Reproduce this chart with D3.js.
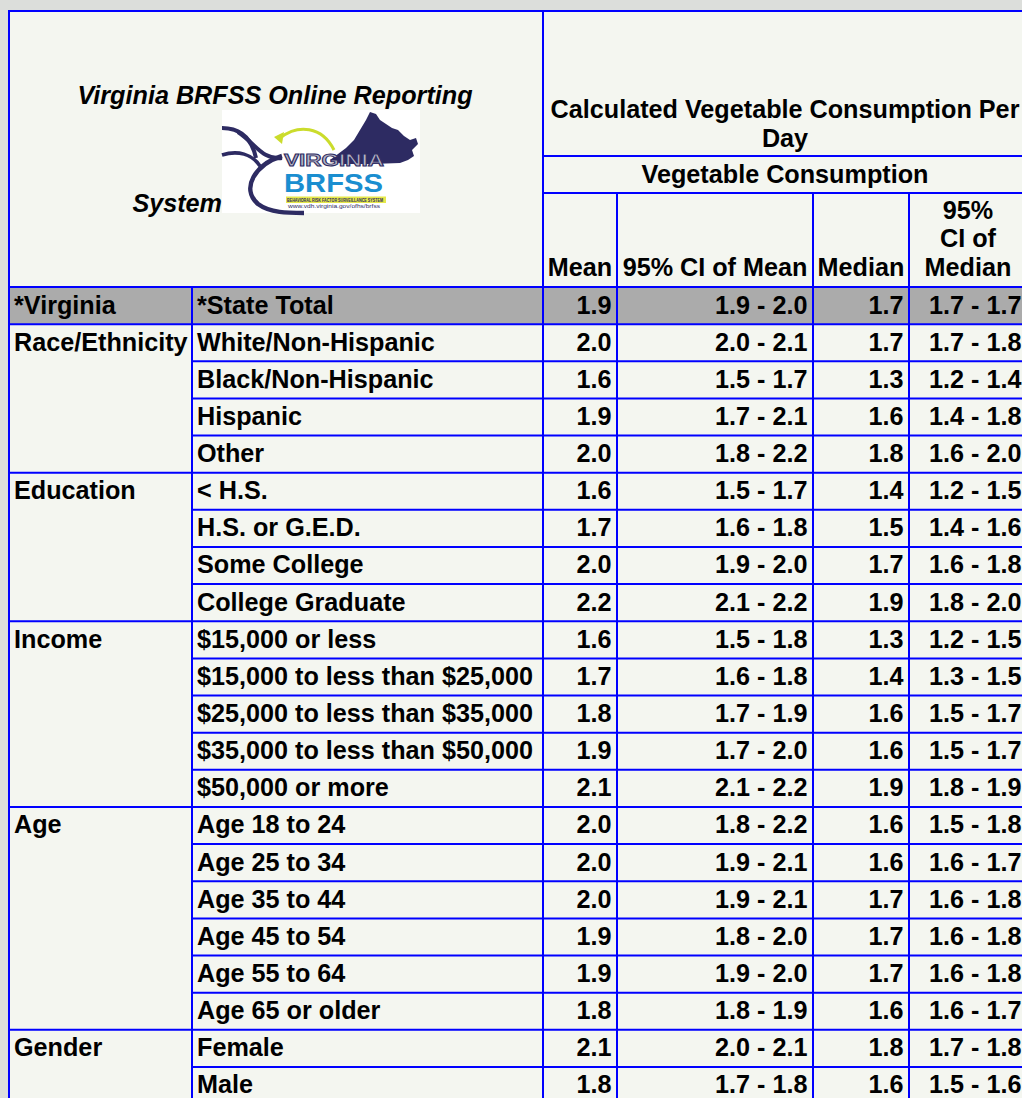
<!DOCTYPE html>
<html>
<head>
<meta charset="utf-8">
<script src="https://cdn.jsdelivr.net/npm/d3@7/dist/d3.min.js"></script>
<style>
  html, body { margin: 0; padding: 0; background: #dcdedb; overflow: hidden; }
  svg { display: block; }
  text { font-family: "Liberation Sans", Arial, sans-serif; font-weight: bold; fill: #000; }
</style>
</head>
<body>
<svg id="tbl" width="1022" height="1098"></svg>
<script>
// table data
var groupNames = ["*Virginia", "Race/Ethnicity", "Education", "Income", "Age", "Gender"];
var groupSizes = [1, 4, 4, 5, 6, 2];

var subgroups = ["*State Total",
  "White/Non-Hispanic", "Black/Non-Hispanic", "Hispanic", "Other",
  "< H.S.", "H.S. or G.E.D.", "Some College", "College Graduate",
  "$15,000 or less", "$15,000 to less than $25,000", "$25,000 to less than $35,000",
  "$35,000 to less than $50,000", "$50,000 or more",
  "Age 18 to 24", "Age 25 to 34", "Age 35 to 44", "Age 45 to 54", "Age 55 to 64", "Age 65 or older",
  "Female", "Male"];

var means   = [1.9, 2.0, 1.6, 1.9, 2.0, 1.6, 1.7, 2.0, 2.2, 1.6, 1.7, 1.8, 1.9, 2.1, 2.0, 2.0, 2.0, 1.9, 1.9, 1.8, 2.1, 1.8];
var meanLo  = [1.9, 2.0, 1.5, 1.7, 1.8, 1.5, 1.6, 1.9, 2.1, 1.5, 1.6, 1.7, 1.7, 2.1, 1.8, 1.9, 1.9, 1.8, 1.9, 1.8, 2.0, 1.7];
var meanHi  = [2.0, 2.1, 1.7, 2.1, 2.2, 1.7, 1.8, 2.0, 2.2, 1.8, 1.8, 1.9, 2.0, 2.2, 2.2, 2.1, 2.1, 2.0, 2.0, 1.9, 2.1, 1.8];
var medians = [1.7, 1.7, 1.3, 1.6, 1.8, 1.4, 1.5, 1.7, 1.9, 1.3, 1.4, 1.6, 1.6, 1.9, 1.6, 1.6, 1.7, 1.7, 1.7, 1.6, 1.8, 1.6];
var medLo   = [1.7, 1.7, 1.2, 1.4, 1.6, 1.2, 1.4, 1.6, 1.8, 1.2, 1.3, 1.5, 1.5, 1.8, 1.5, 1.6, 1.6, 1.6, 1.6, 1.6, 1.7, 1.5];
var medHi   = [1.7, 1.8, 1.4, 1.8, 2.0, 1.5, 1.6, 1.8, 2.0, 1.5, 1.5, 1.7, 1.7, 1.9, 1.8, 1.7, 1.8, 1.8, 1.8, 1.7, 1.8, 1.6];

var headerTitle = ["Calculated Vegetable Consumption Per", "Day"];
var headerSub = "Vegetable Consumption";
var colHeaders = [["Mean"], ["95% CI of Mean"], ["Median"], ["95%", "CI of", "Median"]];

var fmt = d3.format(".1f");
var blue = "#0000ff";
var fs = "25.2px";

var svg = d3.select("#tbl");

// geometry
var colX = [9, 192, 543, 617, 813, 909, 1027];
var tableTop = 11, bodyTop = 287, rowH = 37.14;
var nRows = subgroups.length;
var y = d3.scaleLinear().domain([0, nRows]).range([bodyTop, bodyTop + nRows * rowH]);

// backgrounds
svg.append("rect").attr("x", colX[0]).attr("y", tableTop)
   .attr("width", colX[6] - colX[0]).attr("height", y(nRows) - tableTop)
   .attr("fill", "#f4f6f0");
svg.append("rect").attr("x", colX[0]).attr("y", y(0))
   .attr("width", colX[6] - colX[0]).attr("height", rowH)
   .attr("fill", "#ababab");

// ---- header ----
svg.append("text").attr("x", 275).attr("y", 104).attr("text-anchor", "middle")
   .style("font-size", fs).style("font-style", "italic")
   .text("Virginia BRFSS Online Reporting");
svg.append("text").attr("x", 222).attr("y", 212).attr("text-anchor", "end")
   .style("font-size", fs).style("font-style", "italic")
   .text("System");

// logo (picture in the title cell)
var navy = "#2d2b62";
var logo = svg.append("g").attr("transform", "translate(222,110)");
logo.append("rect").attr("width", 198).attr("height", 103).attr("fill", "#ffffff");
logo.append("path").attr("fill", navy)
   .attr("d", "M108,50 L116,44 L124,38 L132,30 L138,20 L144,10 L148,2 L154,4 L158,10 L164,14 L170,18 L176,20 L182,26 L188,30 L194,28 L196,34 L190,40 L192,46 L186,50 L178,53 L150,54 L120,54 Z");
logo.append("path").attr("fill", "none").attr("stroke", navy).attr("stroke-width", 4)
   .attr("d", "M0,18 C20,18 30,30 34,48");
logo.append("path").attr("fill", "none").attr("stroke", navy).attr("stroke-width", 3.5)
   .attr("d", "M0,45 C16,40 30,44 38,56");
logo.append("path").attr("fill", "none").attr("stroke", navy).attr("stroke-width", 4)
   .attr("d", "M16,22 C34,34 40,50 60,48");
logo.append("path").attr("fill", "none").attr("stroke", navy).attr("stroke-width", 4.5)
   .attr("d", "M60,46 C34,54 18,78 36,94 C48,103 66,103 82,103");
logo.append("path").attr("fill", "none").attr("stroke", "#cbdc2c").attr("stroke-width", 3)
   .attr("d", "M58,28 C76,14 100,16 112,40");
logo.append("path").attr("fill", "#cbdc2c").attr("d", "M52,27 L62,22 L60,34 Z");
logo.append("text").attr("x", 62).attr("y", 56).attr("textLength", 100)
   .attr("lengthAdjust", "spacingAndGlyphs")
   .style("font-size", "16px").style("fill", "#b4b4c4").style("stroke", navy).style("stroke-width", 0.9)
   .text("VIRGINIA");
logo.append("text").attr("x", 62).attr("y", 81.5).attr("textLength", 99)
   .attr("lengthAdjust", "spacingAndGlyphs")
   .style("font-size", "25px").style("fill", "#1a8ed0")
   .text("BRFSS");
logo.append("rect").attr("x", 64).attr("y", 86.5).attr("width", 100).attr("height", 6.5).attr("fill", "#e6e84a");
logo.append("text").attr("x", 65).attr("y", 91.8).attr("textLength", 96)
   .attr("lengthAdjust", "spacingAndGlyphs")
   .style("font-size", "4.5px").style("fill", navy)
   .text("BEHAVIORAL RISK FACTOR SURVEILLANCE SYSTEM");
logo.append("text").attr("x", 66).attr("y", 97.5).attr("textLength", 92)
   .attr("lengthAdjust", "spacingAndGlyphs")
   .style("font-size", "4.5px").style("font-weight", "normal").style("fill", navy)
   .text("www.vdh.virginia.gov/ofhs/brfss");

svg.selectAll(".htitle").data(headerTitle).enter().append("text")
   .attr("class", "htitle")
   .attr("x", (colX[2] + colX[6]) / 2)
   .attr("y", function(d, i) { return 118 + i * 29; })
   .attr("text-anchor", "middle").style("font-size", fs)
   .text(function(d) { return d; });
svg.append("text").attr("x", (colX[2] + colX[6]) / 2).attr("y", 183)
   .attr("text-anchor", "middle").style("font-size", fs).text(headerSub);

colHeaders.forEach(function(lines, c) {
  var cx = (colX[c + 2] + colX[c + 3]) / 2;
  svg.selectAll(null).data(lines).enter().append("text")
     .attr("x", cx)
     .attr("y", function(d, i) { return 275.5 - (lines.length - 1 - i) * 28.5; })
     .attr("text-anchor", "middle").style("font-size", fs)
     .text(function(d) { return d; });
});

// ---- body ----
var starts = [];
var acc = 0;
groupSizes.forEach(function(s) { starts.push(acc); acc += s; });

svg.selectAll(".grp").data(groupNames).enter().append("text")
   .attr("class", "grp")
   .attr("x", colX[0] + 5)
   .attr("y", function(d, i) { return y(starts[i]) + 26.5; })
   .style("font-size", fs)
   .text(function(d) { return d; });

svg.selectAll(".sub").data(subgroups).enter().append("text")
   .attr("class", "sub")
   .attr("x", colX[1] + 5)
   .attr("y", function(d, i) { return y(i) + 26.5; })
   .style("font-size", fs)
   .text(function(d) { return d; });

var cols = [
  means.map(fmt),
  meanLo.map(function(v, i) { return fmt(v) + " - " + fmt(meanHi[i]); }),
  medians.map(fmt),
  medLo.map(function(v, i) { return fmt(v) + " - " + fmt(medHi[i]); })
];
cols.forEach(function(vals, c) {
  svg.selectAll(null).data(vals).enter().append("text")
     .attr("x", colX[c + 3] - 5.5)
     .attr("y", function(d, i) { return y(i) + 26.5; })
     .attr("text-anchor", "end").style("font-size", fs)
     .text(function(d) { return d; });
});

// ---- borders ----
var lines = svg.append("g").attr("stroke", blue).attr("stroke-width", 2).attr("fill", "none");
var bottom = y(nRows);
function hline(x1, x2, yy) { lines.append("line").attr("x1", x1).attr("x2", x2).attr("y1", yy).attr("y2", yy); }
function vline(xx, y1, y2) { lines.append("line").attr("x1", xx).attr("x2", xx).attr("y1", y1).attr("y2", y2); }

hline(colX[0] - 1, colX[6], tableTop);
hline(colX[2], colX[6], 156);
hline(colX[2], colX[6], 193);
vline(colX[0], tableTop, bottom);
vline(colX[2], tableTop, bottom);
vline(colX[6], tableTop, bottom);
vline(colX[1], bodyTop, bottom);
[3, 4, 5].forEach(function(k) { vline(colX[k], 193, bottom); });

d3.range(nRows + 1).forEach(function(i) {
  var isGroupEdge = i === nRows || starts.indexOf(i) >= 0;
  hline(isGroupEdge ? colX[0] : colX[1], colX[6], y(i));
});
</script>
</body>
